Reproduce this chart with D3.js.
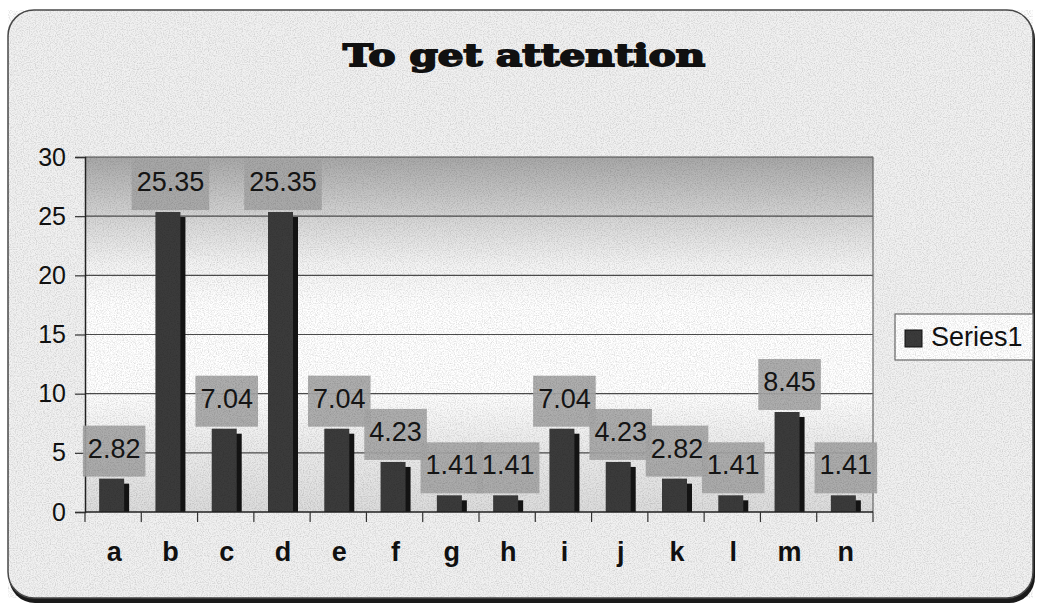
<!DOCTYPE html>
<html>
<head>
<meta charset="utf-8">
<script src="https://cdn.jsdelivr.net/npm/d3@7"></script>
<style>
  html, body { margin: 0; padding: 0; background: #ffffff; }
  svg { display: block; }
</style>
</head>
<body>
<svg id="chart" width="1037" height="604"></svg>
<script>
// Chart data
const categories = ["a", "b", "c", "d", "e", "f", "g", "h", "i", "j", "k", "l", "m", "n"];
const values = [2.82, 25.35, 7.04, 25.35, 7.04, 4.23, 1.41, 1.41, 7.04, 4.23, 2.82, 1.41, 8.45, 1.41];
const yTicks = [0, 5, 10, 15, 20, 25, 30];
const seriesName = "Series1";
const chartTitle = "To get attention";

const svg = d3.select("#chart");
const plot = { left: 85, right: 873, top: 157, bottom: 512 };

const defs = svg.append("defs");

// Light paper grain
const grain = defs.append("filter").attr("id", "grain")
  .attr("x", 0).attr("y", 0).attr("width", "100%").attr("height", "100%");
grain.append("feTurbulence").attr("type", "fractalNoise")
  .attr("baseFrequency", 0.85).attr("numOctaves", 2).attr("seed", 7);
grain.append("feColorMatrix").attr("type", "matrix")
  .attr("values", "0 0 0 0 0  0 0 0 0 0  0 0 0 0 0  0 0 0 0.3 -0.12");

// Plot-area background gradient
const pg = defs.append("linearGradient").attr("id", "plotBg")
  .attr("x1", 0).attr("y1", 0).attr("x2", 0).attr("y2", 1);
[[0, "#a8a8a8"], [0.14, "#cdcdcd"], [0.3, "#f3f3f3"], [0.42, "#ffffff"],
 [0.66, "#ffffff"], [0.8, "#ededed"], [1, "#dcdcdc"]]
  .forEach(([o, c]) => pg.append("stop").attr("offset", o).attr("stop-color", c));

// Chart frame with rounded corners and a dark drop edge
svg.append("rect").attr("x", 9).attr("y", 13).attr("width", 1026).attr("height", 590)
  .attr("rx", 26).attr("fill", "#1a1a1a");
svg.append("rect").attr("x", 8).attr("y", 10).attr("width", 1025).attr("height", 588)
  .attr("rx", 26).attr("fill", "#f1f1f1").attr("stroke", "#4a4a4a").attr("stroke-width", 1.5);

// Title
svg.append("text")
  .attr("x", 524).attr("y", 66)
  .attr("text-anchor", "middle")
  .attr("font-family", "'DejaVu Serif', serif")
  .attr("font-weight", "bold")
  .attr("font-size", 30)
  .attr("textLength", 362).attr("lengthAdjust", "spacingAndGlyphs")
  .attr("fill", "#111").attr("stroke", "#111").attr("stroke-width", 1.8)
  .text(chartTitle);

// Scales
const x = d3.scaleBand().domain(categories).range([plot.left, plot.right]).padding(0);
const y = d3.scaleLinear().domain([0, 30]).range([plot.bottom, plot.top]);

// Plot background
svg.append("rect")
  .attr("x", plot.left).attr("y", plot.top)
  .attr("width", plot.right - plot.left).attr("height", plot.bottom - plot.top)
  .attr("fill", "url(#plotBg)");

// Gridlines
svg.append("g").selectAll("line").data(yTicks.filter(t => t > 0)).join("line")
  .attr("x1", plot.left).attr("x2", plot.right)
  .attr("y1", d => y(d)).attr("y2", d => y(d))
  .attr("stroke", "#4d4d4d").attr("stroke-width", 1.2);

// Right border of plot area
svg.append("line").attr("x1", plot.right).attr("x2", plot.right)
  .attr("y1", plot.top).attr("y2", plot.bottom)
  .attr("stroke", "#6a6a6a").attr("stroke-width", 1.2);

// Bars: shadow then face
const barW = 25, shadowOff = 5;
const bars = svg.append("g");
categories.forEach((c, i) => {
  const cx = x(c) + x.bandwidth() / 2 + 1;
  const top = y(values[i]);
  bars.append("rect")
    .attr("x", cx - 15 + shadowOff).attr("y", top + shadowOff)
    .attr("width", barW).attr("height", Math.max(0, y(0) - top - shadowOff))
    .attr("fill", "#141414");
  bars.append("rect")
    .attr("x", cx - 15).attr("y", top)
    .attr("width", barW).attr("height", y(0) - top)
    .attr("fill", "#3b3b3b");
});

// Y axis
const yAxis = d3.axisLeft(y).tickValues(yTicks).tickSize(10).tickPadding(9).tickFormat(d3.format("d"));
const gy = svg.append("g").attr("transform", `translate(${plot.left},0)`).call(yAxis);
gy.select(".domain").attr("stroke", "#222").attr("stroke-width", 1.5);
gy.selectAll(".tick line").attr("stroke", "#333").attr("stroke-width", 1.2);
gy.selectAll(".tick text")
  .attr("font-family", "'Liberation Sans', Arial, sans-serif")
  .attr("font-size", 25).attr("fill", "#111");

// X axis: ticks at category boundaries
const gx = svg.append("g").attr("transform", `translate(0,${plot.bottom})`);
gx.append("line").attr("x1", plot.left).attr("x2", plot.right)
  .attr("stroke", "#222").attr("stroke-width", 1.5);
gx.selectAll("line.tk").data(categories.concat(["end"])).join("line").attr("class", "tk")
  .attr("x1", (d, i) => plot.left + i * x.step()).attr("x2", (d, i) => plot.left + i * x.step())
  .attr("y1", 0).attr("y2", 10)
  .attr("stroke", "#333").attr("stroke-width", 1.2);
gx.selectAll("text").data(categories).join("text")
  .attr("x", d => x(d) + x.bandwidth() / 2 + 1)
  .attr("y", 49)
  .attr("text-anchor", "middle")
  .attr("font-family", "'Liberation Sans', Arial, sans-serif")
  .attr("font-weight", "bold")
  .attr("font-size", 27).attr("fill", "#111")
  .text(d => d);

// Data labels with grey boxes
const labels = svg.append("g");
categories.forEach((c, i) => {
  const cx = x(c) + x.bandwidth() / 2 + 1;
  const top = y(values[i]);
  const t = labels.append("text")
    .attr("x", cx).attr("y", top - 21)
    .attr("text-anchor", "middle")
    .attr("font-family", "'Liberation Sans', Arial, sans-serif")
    .attr("font-size", 27).attr("fill", "#151515")
    .text(values[i].toFixed(2));
  const bb = t.node().getBBox();
  labels.insert("rect", "text")
    .attr("x", cx - bb.width / 2 - 5).attr("y", top - 53)
    .attr("width", bb.width + 10).attr("height", 51)
    .attr("fill", "#a6a6a6").attr("fill-opacity", 0.92);
});

// Legend
const lg = svg.append("g");
lg.append("rect").attr("x", 895).attr("y", 314).attr("width", 138).attr("height", 46)
  .attr("fill", "#ffffff").attr("stroke", "#6a6a6a").attr("stroke-width", 1.2);
lg.append("rect").attr("x", 905).attr("y", 330).attr("width", 17).attr("height", 17)
  .attr("fill", "#3b3b3b").attr("stroke", "#111").attr("stroke-width", 1);
lg.append("text").attr("x", 931).attr("y", 346)
  .attr("font-family", "'Liberation Sans', Arial, sans-serif")
  .attr("font-size", 27).attr("fill", "#111")
  .text(seriesName);

// Grain overlay across the chart frame
svg.append("rect").attr("x", 8).attr("y", 10).attr("width", 1025).attr("height", 588)
  .attr("rx", 26).attr("filter", "url(#grain)").attr("pointer-events", "none");
</script>
</body>
</html>
